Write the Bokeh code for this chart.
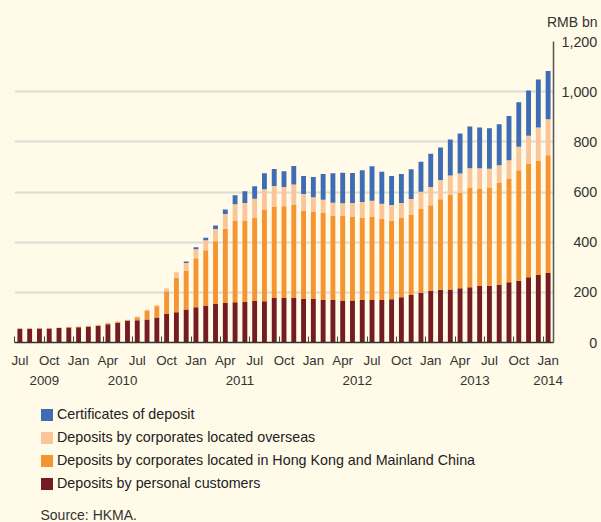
from bokeh.plotting import figure
from bokeh.layouts import column
from bokeh.models import (Range1d, LinearAxis, FixedTicker, Legend, LegendItem,
                          Title, ColumnDataSource)
from bokeh.embed import file_html
from bokeh.resources import INLINE

months = ["2009-07", "2009-08", "2009-09", "2009-10", "2009-11", "2009-12",
          "2010-01", "2010-02", "2010-03", "2010-04", "2010-05", "2010-06",
          "2010-07", "2010-08", "2010-09", "2010-10", "2010-11", "2010-12",
          "2011-01", "2011-02", "2011-03", "2011-04", "2011-05", "2011-06",
          "2011-07", "2011-08", "2011-09", "2011-10", "2011-11", "2011-12",
          "2012-01", "2012-02", "2012-03", "2012-04", "2012-05", "2012-06",
          "2012-07", "2012-08", "2012-09", "2012-10", "2012-11", "2012-12",
          "2013-01", "2013-02", "2013-03", "2013-04", "2013-05", "2013-06",
          "2013-07", "2013-08", "2013-09", "2013-10", "2013-11", "2013-12",
          "2014-01"]

personal = [54.5, 54.5, 55.5, 56, 57.5, 60, 61, 63, 66, 73, 79, 87,
            89, 92, 100, 114, 121, 132, 141, 148, 153, 157, 160, 161,
            165, 164, 177, 177, 177, 173, 173, 169, 169, 167, 167, 169,
            169, 169, 172, 180, 189, 198, 205, 210, 211, 216, 220, 225,
            226, 230, 240, 246, 260, 269, 277]
hk_mainland = [1, 1, 1, 1, 1.5, 2, 2, 2.5, 3, 4, 4, 2.5,
               12, 36, 45, 90, 136, 153, 195, 220, 251, 296, 324, 323,
               331, 364, 363, 366, 371, 352, 347, 347, 335, 337, 333, 327,
               331, 323, 313, 316, 319, 336, 342, 361, 377, 380, 396, 387,
               392, 406, 412, 441, 454, 457, 470]
overseas = [0.5, 0.5, 1, 0.5, 0.5, 0.7, 1, 1, 1.5, 1.5, 1.5, 0.8,
            3, 2.5, 5, 12, 23, 32, 36, 40, 48, 59, 67, 72,
            77, 83, 84, 77, 82, 67, 59, 53, 53, 51, 56, 64,
            65, 61, 63, 60, 64, 67, 73, 77, 78, 78, 79, 83,
            75, 71, 75, 93, 110, 131, 143]
certificates = [0, 0, 0, 0, 0, 0, 0, 0, 0, 0, 0, 0,
                0, 0, 0, 0, 0, 6, 8, 10, 14, 18, 36, 47,
                50, 64, 68, 63, 74, 72, 81, 103, 118, 122, 120, 127,
                138, 128, 116, 116, 119, 120, 132, 129, 143, 159, 166, 162,
                161, 163, 176, 178, 181, 192, 192]

quarter_labels = ["Jul", "Oct", "Jan", "Apr", "Jul", "Oct", "Jan", "Apr", "Jul", "Oct",
                  "Jan", "Apr", "Jul", "Oct", "Jan", "Apr", "Jul", "Oct", "Jan"]
year_labels = ["2009", "2010", "2011", "2012", "2013", "2014"]
year_label_pos = [2.5, 10.5, 22.5, 34.5, 46.5, 54]
y_ticks = [0, 200, 400, 600, 800, 1000, 1200]
grid_ticks = [200, 400, 600, 800, 1000]

series_keys = ["personal", "hk", "overseas", "cd"]
series_names = ["Deposits by personal customers",
                "Deposits by corporates located in Hong Kong and Mainland China",
                "Deposits by corporates located overseas",
                "Certificates of deposit"]
colors = ["#741c21", "#f59431", "#fbc59a", "#3e6db5"]

BG = "#fffbe8"
FONT = "Liberation Sans"
TXT = "#333333"

x = list(range(len(months)))
src = ColumnDataSource(dict(x=x, months=months, personal=personal, hk=hk_mainland,
                            overseas=overseas, cd=certificates))

# ---------------- chart ----------------
p = figure(width=601, height=387,
           x_range=Range1d(-0.55, len(months) - 0.45), y_range=Range1d(0, 1200),
           output_backend="svg", toolbar_location=None, y_axis_location="right",
           min_border_left=14, min_border_right=48, min_border_top=41, min_border_bottom=0,
           background_fill_color=BG, border_fill_color=BG, outline_line_color=None)

p.vbar_stack(series_keys, x="x", width=0.5, fill_color=colors, line_color=None, source=src)

# right value axis, labels padded with figure spaces so they line up on the right
def padded(v):
    s = "{:,}".format(v)
    widest = "{:,}".format(max(y_ticks))
    nd = sum(c.isdigit() for c in widest) - sum(c.isdigit() for c in s)
    nc = widest.count(",") - s.count(",")
    return "\u2007" * nd + "\u2008" * nc + s

yax = p.yaxis[0]
yax.ticker = FixedTicker(ticks=y_ticks)
yax.major_label_overrides = {v: padded(v) for v in y_ticks}
yax.major_tick_line_color = None
yax.minor_tick_line_color = None
yax.major_tick_out = 0
yax.minor_tick_out = 0
yax.axis_line_color = "#555555"
yax.axis_line_width = 1.5
yax.major_label_text_font = FONT
yax.major_label_text_font_size = "14.3px"
yax.major_label_text_color = TXT
yax.major_label_standoff = 8

p.ygrid.ticker = FixedTicker(ticks=grid_ticks)
p.ygrid.grid_line_color = "#dddbd5"
p.ygrid.grid_line_width = 2
p.xgrid.grid_line_color = None

# x axis: quarter labels centred on bars, boundary tick marks between bars
q_pos = [i for i in x if i % 3 == 0]
xax = p.xaxis[0]
xax.ticker = FixedTicker(ticks=q_pos, minor_ticks=[i - 0.5 for i in q_pos])
xax.major_label_overrides = {i: lab for i, lab in zip(q_pos, quarter_labels)}
xax.major_tick_line_color = None
xax.major_tick_out = 0
xax.major_tick_in = 0
xax.minor_tick_line_color = "#444444"
xax.minor_tick_in = 6
xax.minor_tick_out = 0
xax.axis_line_color = "#333333"
xax.axis_line_width = 1.5
xax.major_label_standoff = 10
xax.major_label_text_font = FONT
xax.major_label_text_font_size = "13.3px"
xax.major_label_text_color = TXT

yr_axis = LinearAxis(ticker=FixedTicker(ticks=year_label_pos),
                     major_label_overrides={v: t for v, t in zip(year_label_pos, year_labels)},
                     axis_line_color=None, major_tick_line_color=None,
                     minor_tick_line_color=None, major_tick_out=0, major_tick_in=0,
                     minor_tick_out=0, minor_tick_in=0, major_label_standoff=5,
                     major_label_text_font=FONT, major_label_text_font_size="13.3px",
                     major_label_text_color=TXT)
p.add_layout(yr_axis, "below")

unit_title = Title(text="RMB bn", align="right", offset=-44, standoff=20,
                   vertical_align="top", text_font=FONT, text_font_size="14px",
                   text_font_style="normal", text_color=TXT)
p.add_layout(unit_title, "above")

# ---------------- legend + source ----------------
# (the column layout aligns this panel's frame with the chart's frame, left edge x=14)
p2 = figure(width=601, height=135, x_range=Range1d(100, 101), y_range=Range1d(-2, -1),
            output_backend="svg", toolbar_location=None,
            x_axis_location=None, y_axis_location=None,
            min_border_left=0, min_border_right=0, min_border_top=0, min_border_bottom=0,
            background_fill_color=BG, border_fill_color=BG, outline_line_color=None)
p2.grid.visible = False

# same stacked series feed the legend swatches; the renderers themselves are hidden
swatches = p2.vbar_stack(series_keys, x="x", width=0.5, fill_color=colors,
                         line_color=None, source=src)
for r in swatches:
    r.visible = False
legend = Legend(items=[LegendItem(label=series_names[k], renderers=[swatches[k]])
                       for k in reversed(range(len(series_keys)))],
                location=(25, 11), margin=0, padding=0, spacing=3,
                label_height=20, glyph_height=15, glyph_width=15, label_standoff=3,
                label_text_font=FONT, label_text_font_size="14.3px",
                label_text_color="#222222", border_line_color=None,
                background_fill_alpha=0, inactive_fill_alpha=0)
p2.add_layout(legend)

src_title = Title(text="Source: HKMA.", align="left", offset=26, standoff=0,
                  text_font=FONT, text_font_size="14px", text_font_style="normal",
                  text_color=TXT)
p2.add_layout(src_title, "below")

page = column(p, p2, spacing=0)

html = file_html(page, INLINE)
html = html.replace("<body>", '<body style="background-color:%s;">' % BG)
open("out.html", "w").write(html)
